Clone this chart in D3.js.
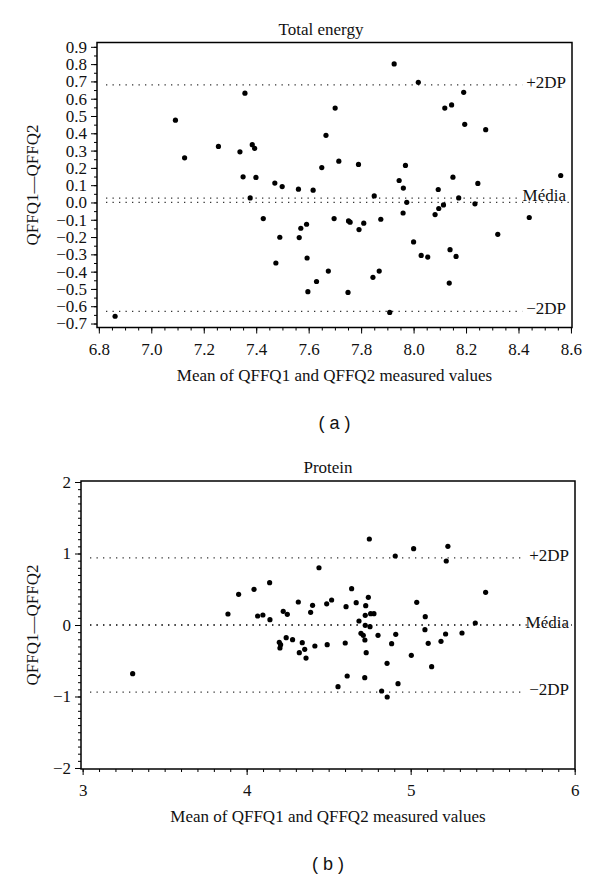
<!DOCTYPE html>
<html>
<head>
<meta charset="utf-8">
<script src="https://cdn.jsdelivr.net/npm/d3@7"></script>
<style>
  body { margin: 0; background: #fff; }
  svg { display: block; }
</style>
</head>
<body>
<div id="chart"></div>
<script>
// (a) Total energy: mean of the two measures vs difference
const energyMean = [6.862, 7.092, 7.127, 7.256, 7.338, 7.357, 7.350, 7.385, 7.394, 7.399,
  7.377, 7.427, 7.471, 7.475, 7.490, 7.499, 7.561, 7.564, 7.570, 7.592,
  7.594, 7.597, 7.617, 7.630, 7.650, 7.666, 7.675, 7.697, 7.701, 7.715,
  7.750, 7.752, 7.758, 7.790, 7.792, 7.810, 7.845, 7.850, 7.869, 7.875,
  7.909, 7.926, 7.945, 7.960, 7.961, 7.969, 7.974, 8.000, 8.018, 8.029,
  8.054, 8.082, 8.094, 8.096, 8.114, 8.119, 8.136, 8.139, 8.145, 8.150,
  8.162, 8.172, 8.191, 8.195, 8.234, 8.245, 8.275, 8.321, 8.441, 8.561];
const energyDiff = [-0.658, 0.476, 0.258, 0.324, 0.293, 0.632, 0.148, 0.334, 0.313, 0.145,
  0.026, -0.093, 0.112, -0.350, -0.201, 0.092, 0.077, -0.203, -0.149, -0.126,
  -0.321, -0.516, 0.071, -0.457, 0.202, 0.388, -0.397, -0.093, 0.546, 0.239,
  -0.520, -0.107, -0.114, 0.220, -0.157, -0.120, -0.433, 0.038, -0.397, -0.097,
  -0.636, 0.801, 0.127, -0.061, 0.083, 0.214, 0.001, -0.228, 0.695, -0.306,
  -0.316, -0.070, 0.075, -0.035, -0.014, 0.546, -0.466, -0.273, 0.564, 0.146,
  -0.312, 0.026, 0.637, 0.452, -0.008, 0.110, 0.421, -0.184, -0.087, 0.156];

// (b) Protein
const proteinMean = [3.305, 3.886, 3.951, 4.045, 4.067, 4.099, 4.140, 4.142, 4.199, 4.207,
  4.203, 4.223, 4.241, 4.248, 4.280, 4.315, 4.321, 4.339, 4.354, 4.362,
  4.390, 4.402, 4.416, 4.441, 4.488, 4.491, 4.518, 4.557, 4.601, 4.606,
  4.613, 4.640, 4.668, 4.685, 4.697, 4.711, 4.720, 4.721, 4.723, 4.723,
  4.726, 4.729, 4.742, 4.748, 4.752, 4.756, 4.776, 4.801, 4.823, 4.856,
  4.857, 4.884, 4.906, 4.909, 4.923, 5.004, 5.018, 5.037, 5.087, 5.089,
  5.107, 5.128, 5.185, 5.213, 5.217, 5.227, 5.313, 5.394, 5.457];
const proteinDiff = [-0.681, 0.154, 0.429, 0.499, 0.126, 0.140, 0.592, 0.074, -0.242, -0.275,
  -0.322, 0.191, -0.177, 0.149, -0.205, 0.322, -0.387, -0.247, -0.340, -0.462,
  0.177, 0.275, -0.294, 0.801, 0.296, -0.275, 0.350, -0.863, -0.252, 0.256,
  -0.713, 0.508, 0.312, 0.056, -0.117, -0.144, -0.737, -0.210, 0.135, -0.005,
  0.270, -0.387, 0.387, 1.203, -0.023, 0.158, 0.158, -0.144, -0.923, -0.536,
  -1.007, -0.261, 0.965, -0.131, -0.821, -0.424, 1.067, 0.317, -0.065, 0.116,
  -0.256, -0.583, -0.228, -0.126, 0.895, 1.101, -0.112, 0.028, 0.457];

// reference lines: upper limit, mean, lower limit
const refLabels = ["+2DP", "Média", "\u22122DP"];
const energyRefs = [0.68, 0.025, -0.63];
const proteinRefs = [0.94, 0.0, -0.94];

const energyTicksX = [6.8, 7.0, 7.2, 7.4, 7.6, 7.8, 8.0, 8.2, 8.4, 8.6];
const energyTicksY = [-0.7, -0.6, -0.5, -0.4, -0.3, -0.2, -0.1, 0.0, 0.1, 0.2, 0.3, 0.4, 0.5, 0.6, 0.7, 0.8, 0.9];
const proteinTicksX = [3, 4, 5, 6];
const proteinTicksY = [-2, -1, 0, 1, 2];

const serif = "'Liberation Serif', 'DejaVu Serif', serif";
const width = 600, height = 878;

const svg = d3.select("#chart")
  .append("svg")
  .attr("width", width)
  .attr("height", height);

function drawPanel(p) {
  const x = d3.scaleLinear().domain(p.xDomain).range([p.left, p.right]);
  const y = d3.scaleLinear().domain(p.yDomain).range([p.bottom, p.top]);
  const g = svg.append("g");

  // minor ticks first, then the labelled ones
  g.append("g")
    .attr("transform", `translate(0,${p.bottom})`)
    .call(d3.axisBottom(x).tickValues(p.xMinor).tickSize(3).tickFormat(""));
  g.append("g")
    .attr("transform", `translate(${p.left},0)`)
    .call(d3.axisLeft(y).tickValues(p.yMinor).tickSize(3).tickFormat(""));

  g.append("g")
    .attr("class", "x-axis")
    .attr("transform", `translate(0,${p.bottom})`)
    .call(d3.axisBottom(x).tickValues(p.xTicks).tickSize(6).tickPadding(9).tickFormat(p.xFormat));
  g.append("g")
    .attr("class", "y-axis")
    .attr("transform", `translate(${p.left},0)`)
    .call(d3.axisLeft(y).tickValues(p.yTicks).tickSize(6).tickPadding(4).tickFormat(p.yFormat));

  g.selectAll(".domain").remove();
  g.selectAll(".tick line").attr("stroke", "#000");
  g.selectAll("g").attr("font-family", serif).attr("font-size", 17);
  g.selectAll(".tick text").attr("fill", "#111");

  // frame
  g.append("rect")
    .attr("x", p.left)
    .attr("y", p.top)
    .attr("width", p.right - p.left)
    .attr("height", p.bottom - p.top)
    .attr("fill", "none")
    .attr("stroke", "#000")
    .attr("stroke-width", 1.5);

  // zero reference line across the whole width
  g.append("line")
    .attr("x1", p.left + 9).attr("x2", p.right - 3)
    .attr("y1", y(0)).attr("y2", y(0))
    .attr("stroke", "#333")
    .attr("stroke-width", 1.3)
    .attr("stroke-dasharray", "1.3,5.2");

  // limits of agreement and mean, each with a label at the right
  p.refs.forEach((v, i) => {
    const label = g.append("text")
      .attr("x", p.right - 6)
      .attr("y", y(v) + 3)
      .attr("text-anchor", "end")
      .attr("font-family", serif)
      .attr("font-size", 17)
      .attr("fill", "#111")
      .text(refLabels[i]);
    const lx = label.node().getBBox().x;
    g.append("line")
      .attr("x1", p.left + 9).attr("x2", lx - 4)
      .attr("y1", y(v)).attr("y2", y(v))
      .attr("stroke", "#333")
      .attr("stroke-width", 1.3)
      .attr("stroke-dasharray", "1.3,5.2");
  });

  g.append("g")
    .selectAll("circle")
    .data(d3.range(p.xs.length))
    .join("circle")
    .attr("cx", i => x(p.xs[i]))
    .attr("cy", i => y(p.ys[i]))
    .attr("r", 2.6)
    .attr("fill", "#000");

  g.append("text")
    .attr("x", p.titleX)
    .attr("y", p.top - 8)
    .attr("text-anchor", "middle")
    .attr("font-family", serif)
    .attr("font-size", 17)
    .attr("fill", "#111")
    .text(p.title);

  g.append("text")
    .attr("x", (p.left + p.right) / 2)
    .attr("y", p.bottom + 53)
    .attr("text-anchor", "middle")
    .attr("font-family", serif)
    .attr("font-size", 17)
    .attr("fill", "#111")
    .text("Mean of QFFQ1 and QFFQ2 measured values");

  g.append("text")
    .attr("transform", `translate(38,${(p.top + p.bottom) / 2}) rotate(-90)`)
    .attr("text-anchor", "middle")
    .attr("font-family", serif)
    .attr("font-size", 17)
    .attr("fill", "#111")
    .text("QFFQ1\u2014QFFQ2");

  g.append("text")
    .attr("x", (p.left + p.right) / 2)
    .attr("y", p.bottom + 101)
    .attr("text-anchor", "middle")
    .attr("font-family", "'Liberation Sans', Arial, sans-serif")
    .attr("font-size", 18)
    .attr("fill", "#111")
    .attr("xml:space", "preserve")
    .text(p.tag);
}

drawPanel({
  title: "Total energy", titleX: 321, tag: "( a )",
  left: 97, right: 572, top: 42.5, bottom: 327.5,
  xDomain: [6.793, 8.604], yDomain: [-0.723, 0.925],
  xTicks: energyTicksX, yTicks: energyTicksY,
  xMinor: d3.range(136, 173).map(k => k * 0.05),
  yMinor: d3.range(-14, 19).map(k => k * 0.05),
  xFormat: d3.format(".1f"), yFormat: d3.format(".1f"),
  xs: energyMean, ys: energyDiff, refs: energyRefs
});

drawPanel({
  title: "Protein", titleX: 328, tag: "( b )",
  left: 81, right: 575, top: 481, bottom: 769,
  xDomain: [2.99, 6.002], yDomain: [-2.014, 2.014],
  xTicks: proteinTicksX, yTicks: proteinTicksY,
  xMinor: d3.range(30, 61).map(k => k / 10),
  yMinor: d3.range(-20, 21).map(k => k / 10),
  xFormat: d3.format("d"), yFormat: d3.format("d"),
  xs: proteinMean, ys: proteinDiff, refs: proteinRefs
});
</script>
</body>
</html>
